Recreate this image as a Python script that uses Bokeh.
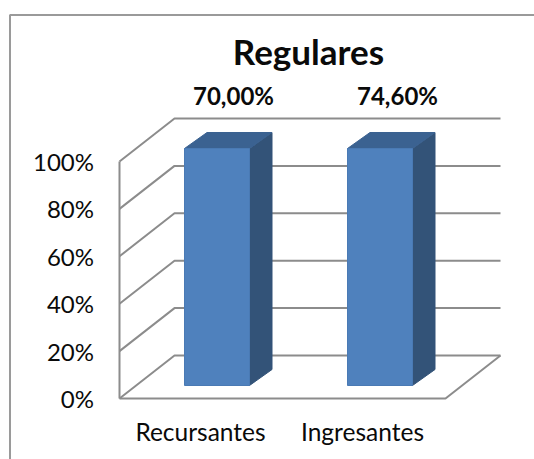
from bokeh.plotting import figure
from bokeh.models import Range1d, Label
from bokeh.embed import file_html
from bokeh.resources import INLINE

title_text = "Regulares"
categories = ["Recursantes", "Ingresantes"]
labels = ["70,00%", "74,60%"]
bar_values = [100, 100]
ticks = [0, 20, 40, 60, 80, 100]

W, H = 534, 459
PXY = 2.37
y_at = lambda py: (398 - py) / PXY
p = figure(width=W, height=H, output_backend="svg", toolbar_location=None,
           x_range=Range1d(0, W),
           y_range=Range1d(y_at(H), y_at(0)),
           min_border=0, min_border_left=0, min_border_right=0,
           min_border_top=0, min_border_bottom=0,
           outline_line_color=None, background_fill_color="white", border_fill_color="white")
p.grid.visible = False
p.xaxis.visible = False
p.yaxis.visible = False

GREY = "#8c8c8c"
DX, DY = 55, 43 / PXY
FX0, FX1 = 119, 445

# outer chart border
p.line([9.5, 9.5, W], [y_at(H), y_at(14.5), y_at(14.5)], line_color="#9a9a9a", line_width=2)

# walls and gridlines
for t in ticks:
    p.line([FX0, FX0 + DX, FX1 + DX], [t, t + DY, t + DY], line_color=GREY, line_width=2)
p.line([FX0, FX0], [0, 100], line_color=GREY, line_width=2)
p.line([FX0, FX1, FX1 + DX], [0, 0, DY], line_color=GREY, line_width=2)

# 3-D bars
BW, BDX, BDY = 65, 22.5, 16 / PXY
base = 13 / PXY
lefts = [184, 347]
for left, v in zip(lefts, bar_values):
    r = left + BW
    top = base + v
    p.patch([r, r + BDX, r + BDX, r], [base, base + BDY, top + BDY, top], fill_color="#335378", line_color="#335378")
    p.patch([left, r, r + BDX, left + BDX], [top, top, top + BDY, top + BDY], fill_color="#3b6291", line_color="#3b6291")
    p.quad(left=left, right=r, bottom=base, top=top, fill_color="#4f81bd", line_color="#4a7ab4")

TXT = "#0a0a0a"
for t in ticks:
    p.add_layout(Label(x=93.5, y=t, text=f"{t}%", text_font="Lato", text_font_size="24px",
                       text_color=TXT, text_align="right", text_baseline="middle"))
for c, cx in zip(categories, [200, 362]):
    p.add_layout(Label(x=cx, y=y_at(431), text=c, text_font="Lato", text_font_size="24.5px",
                       text_color=TXT, text_align="center", text_baseline="middle"))
for lab, cx in zip(labels, [233, 397]):
    p.add_layout(Label(x=cx, y=y_at(95), text=lab, text_font="Lato", text_font_style="bold",
                       text_font_size="24px", text_color=TXT, text_align="center", text_baseline="middle"))
p.add_layout(Label(x=308, y=y_at(50), text=title_text, text_font="Lato", text_font_style="bold",
                   text_font_size="35px", text_color=TXT, text_align="center", text_baseline="middle"))

open("out.html", "w").write(file_html(p, INLINE))
